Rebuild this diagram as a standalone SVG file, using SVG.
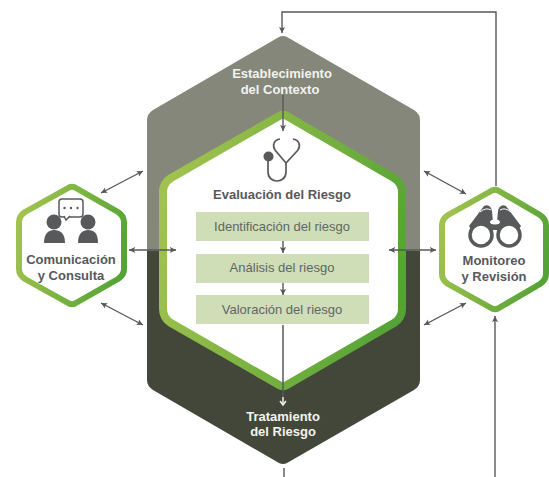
<svg xmlns="http://www.w3.org/2000/svg" width="549" height="477" viewBox="0 0 549 477">
<style>
text{font-family:"Liberation Sans",Arial,sans-serif;text-anchor:middle}
.w{font-size:13px;font-weight:700;fill:#f2f3ee}
.d{font-size:13px;font-weight:700;fill:#58585a}
.s{font-size:13px;fill:#636466}
.box{fill:#cfdeb6}
.c{fill:none;stroke:#58585a;stroke-width:1.4}
.i{fill:#58595b}
.l{fill:none;stroke:#58595b}
</style>
<defs>
<linearGradient id="g" x1="0" y1="0.35" x2="1" y2="0.65"><stop offset="0" stop-color="#a0c24e"/><stop offset="1" stop-color="#55a336"/></linearGradient>
<marker id="a" viewBox="0 0 8 8" refX="7.5" refY="4" markerWidth="7" markerHeight="7" markerUnits="userSpaceOnUse" orient="auto-start-reverse"><path d="M0.5 0.5L7.5 4L0.5 7.5L2 4Z" fill="#58585a"/></marker>
<clipPath id="top"><rect x="0" y="0" width="549" height="251"/></clipPath>
<clipPath id="bot"><rect x="0" y="251" width="549" height="226"/></clipPath>
</defs>
<g id="node-contexto">
<path clip-path="url(#top)" d="M279 37Q283 35 287 37L414 110Q420 114 420 120V380Q420 386 414 390L287 463Q283 465 279 463L153 390Q147 386 147 380V120Q147 114 153 110Z" fill="#85877a"/>
<text class="w" x="282" y="78">Establecimiento</text>
<text class="w" x="280" y="94">del Contexto</text>
</g>
<g id="node-tratamiento">
<path clip-path="url(#bot)" d="M279 37Q283 35 287 37L414 110Q420 114 420 120V380Q420 386 414 390L287 463Q283 465 279 463L153 390Q147 386 147 380V120Q147 114 153 110Z" fill="#434739"/>
<text class="w" x="283" y="421">Tratamiento</text>
<text class="w" x="283" y="436">del Riesgo</text>
</g>
<g id="node-evaluacion">
<path d="M280 115.500Q283 114 286 115.500L394 178Q402 183 402 192V309Q402 318 394 323L286 385.500Q283 387 280 385.500L171 323Q163 318 163 309V192Q163 183 171 178Z" fill="#fff" stroke="url(#g)" stroke-width="8" stroke-linejoin="round"/>
<g id="icon-stethoscope">
<circle cx="268.500" cy="156.500" r="5" class="i"/>
<path class="l" stroke-width="1.700" d="M280 139C274 140 272 145 275 150L286 163L298 150C301 145 299 140 293 139"/>
<path class="l" stroke-width="1.700" d="M268 160V172C268 184 286 184 286 172V162"/>
</g>
<text class="d" x="282" y="199">Evaluación del Riesgo</text>
</g>
<g id="node-identificacion"><rect class="box" x="196" y="212" width="173" height="29"/><text class="s" x="282" y="231">Identificación del riesgo</text></g>
<g id="node-analisis"><rect class="box" x="196" y="254" width="173" height="29"/><text class="s" x="282" y="272">Análisis del riesgo</text></g>
<g id="node-valoracion"><rect class="box" x="196" y="295" width="173" height="29"/><text class="s" x="282" y="314">Valoración del riesgo</text></g>
<g id="node-comunicacion">
<path d="M69 187.500Q72 186 75 187.500L118 212Q124 216 124 222V269Q124 275 118 279L75 303.500Q72 305 69 303.500L25 279Q19 275 19 269V222Q19 216 25 212Z" fill="#fff" stroke="url(#g)" stroke-width="6" stroke-linejoin="round"/>
<g id="icon-people">
<rect x="59" y="199" width="24" height="18" rx="3" fill="#fff" stroke="#58595b" stroke-width="1.500"/>
<path d="M64 216L66 220L70 216" fill="#fff" stroke="#58595b" stroke-width="1.500"/>
<circle cx="64.500" cy="208" r="1.200" class="i"/><circle cx="71" cy="208" r="1.200" class="i"/><circle cx="77.500" cy="208" r="1.200" class="i"/>
<circle cx="54" cy="222" r="7.500" class="i"/>
<path class="i" d="M44 243C44 233 49 230 54 230C60 230 65 233 65 243Z"/>
<circle cx="88" cy="222" r="7.500" class="i"/>
<path class="i" d="M78 243C78 233 83 230 88 230C94 230 98 233 98 243Z"/>
</g>
<text class="d" x="71" y="264">Comunicación</text>
<text class="d" x="71" y="280">y Consulta</text>
</g>
<g id="node-monitoreo">
<path d="M492 190.500Q495 189 498 190.500L540 215Q546 219 546 225V274Q546 280 540 284L498 308.500Q495 310 492 308.500L448 284Q442 280 442 274V225Q442 219 448 215Z" fill="#fff" stroke="url(#g)" stroke-width="6" stroke-linejoin="round"/>
<g id="icon-binoculars">
<path class="i" d="M484 206L469 226L480 243L493 230H497L510 243L521 226L506 206C502 204 499 206 498 211L497 222H493L492 211C491 206 488 204 484 206Z"/>
<circle cx="481" cy="235" r="11" fill="#fff" stroke="#58595b" stroke-width="3.500"/>
<circle cx="509" cy="235" r="11" fill="#fff" stroke="#58595b" stroke-width="3.500"/>
<ellipse cx="495" cy="222" rx="5" ry="2.500" fill="#fff"/>
<path d="M480 212Q486 207 491 210M500 210Q505 207 511 212" fill="none" stroke="#fff" stroke-width="1"/>
</g>
<text class="d" x="494" y="265">Monitoreo</text>
<text class="d" x="494" y="281">y Revisión</text>
</g>
<g id="connectors">
<path class="c" d="M496 186V12H282V33" marker-end="url(#a)"/>
<path class="c" d="M283 95V131" marker-end="url(#a)"/>
<path class="c" d="M283 241V253" marker-end="url(#a)"/>
<path class="c" d="M283 283V295" marker-end="url(#a)"/>
<path d="M283 325V397" fill="none" stroke="#58585a" stroke-width="1.500"/>
<path d="M283 397V404" fill="none" stroke="#f2f3ee" stroke-width="1.500"/>
<path d="M280 401L283 405L286 401" fill="none" stroke="#f2f3ee" stroke-width="1.500"/>
<path class="c" d="M284 468V477"/>
<path class="c" d="M495 477V316" marker-end="url(#a)"/>
<path class="c" d="M129 250H176" marker-start="url(#a)" marker-end="url(#a)"/>
<path class="c" d="M389 250H436" marker-start="url(#a)" marker-end="url(#a)"/>
<path class="c" d="M101 193L143 171" marker-start="url(#a)" marker-end="url(#a)"/>
<path class="c" d="M101 303L143 325" marker-start="url(#a)" marker-end="url(#a)"/>
<path class="c" d="M424 171L466 194" marker-start="url(#a)" marker-end="url(#a)"/>
<path class="c" d="M424 325L466 303" marker-start="url(#a)" marker-end="url(#a)"/>
</g>
</svg>
